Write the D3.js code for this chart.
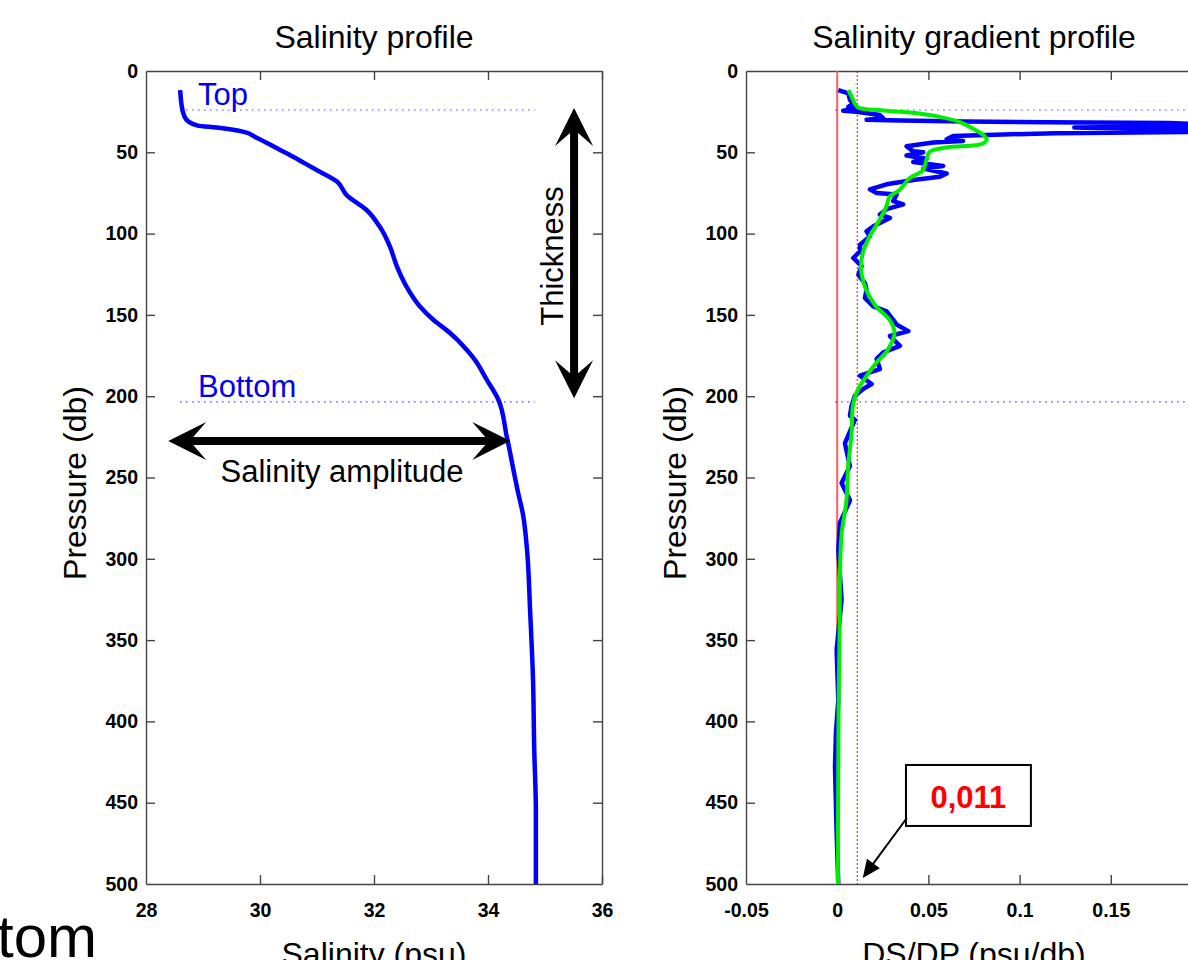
<!DOCTYPE html>
<html>
<head>
<meta charset="utf-8">
<script src="https://cdn.jsdelivr.net/npm/d3@7"></script>
<style>
  body { margin: 0; background: #fff; }
  svg { display: block; font-family: "Liberation Sans", Arial, sans-serif; }
  .axis path, .axis line { stroke: #444; stroke-width: 1.4; }
  .axis text { font-size: 19.5px; font-weight: bold; fill: #000; font-family: "Liberation Sans", Arial, sans-serif; }
  .big { font-size: 31px; fill: #000; }
</style>
</head>
<body>
<svg id="chart" width="1188" height="960"></svg>
<script>
// salinity profile (left)
const salPressure = [11.7, 24, 30, 33.6, 34.8, 37.3, 41, 47.4, 52.7, 59.7, 68, 76.3, 85.5, 95.7, 108, 120, 132.6, 145, 153, 161, 171.6, 177.7, 190, 202, 225, 259.6, 272, 292.5, 333, 374.5, 415.5, 456, 500];
const salinity = [28.6, 28.64, 28.71, 28.91, 29.24, 29.7, 29.94, 30.29, 30.58, 30.93, 31.35, 31.52, 31.87, 32.1, 32.28, 32.4, 32.57, 32.81, 33.04, 33.33, 33.63, 33.77, 33.98, 34.18, 34.33, 34.53, 34.61, 34.68, 34.74, 34.79, 34.81, 34.84, 34.84];

// salinity gradient, raw (blue)
const gradPressure = [11.7, 13.7, 17.8, 19.9, 22, 23, 24.5, 25, 27.1, 29.1,
  30, 30.5, 31, 31.5, 32, 33, 34, 34.8, 35.5, 36.5,
  37.5, 38.3, 39, 40, 42, 43, 44, 46.3, 49.4, 50,
  52, 54, 56, 58.4, 60, 63, 65, 67, 69.7, 72.8,
  75, 76, 80, 82, 85, 88.3, 90.4, 95.5, 98.6, 101.7,
  106.8, 110.9, 115, 120, 125.3, 130.4, 134.5, 139.6, 144.8, 147.8,
  153, 156, 160, 163, 169, 173, 177, 183.3, 187.4, 192.5,
  195.5, 199.7, 205.8, 212, 214.6, 229, 243, 253.4, 264, 278,
  294.6, 325, 356, 387, 407, 428, 469, 500];
const gradient = [0.0006, 0.0061, 0.007, 0.0088, 0.0061, 0.0106, 0.0033, 0.0106, 0.0234, 0.0253,
  0.0161, 0.035, 0.07, 0.115, 0.182, 0.21, 0.2, 0.13, 0.16, 0.22,
  0.2, 0.12, 0.091, 0.0636, 0.06, 0.069, 0.0527, 0.038, 0.0417, 0.0472,
  0.038, 0.049, 0.0417, 0.0581, 0.0472, 0.06, 0.0563, 0.0417, 0.0271, 0.0179,
  0.0216, 0.0326, 0.0307, 0.0362, 0.0271, 0.0234, 0.0289, 0.0198, 0.0161, 0.0179,
  0.0125, 0.0125, 0.0088, 0.0134, 0.0116, 0.0152, 0.0161, 0.0152, 0.0198, 0.0271,
  0.0307, 0.0326, 0.039, 0.0289, 0.0344, 0.0253, 0.0216, 0.0234, 0.0125, 0.0189,
  0.0143, 0.0097, 0.0079, 0.007, 0.0097, 0.0042, 0.007, 0.0024, 0.007, 0.0015,
  0.0006, 0.0024, -0.0003, 0.0006, -0.0007, -0.0012, -0.0003, 0.0006];

// salinity gradient, smoothed (green)
const smoothPressure = [11.7, 15.8, 22, 24.1, 25.7, 28.2, 31.3, 35.4, 41.5, 44.6,
  47, 49.7, 54.8, 61, 66, 73.2, 77.3, 83.4, 91.6, 101.9,
  112, 122.3, 134.6, 144.8, 153, 161, 171.5, 179.6, 187.8, 196,
  206, 223, 243, 264, 284, 305, 346, 387, 428, 469, 500];
const smoothGradient = [0.0061, 0.008, 0.011, 0.0237, 0.0416, 0.0562, 0.067, 0.0743, 0.0819, 0.08,
  0.0598, 0.0507, 0.0489, 0.047, 0.0396, 0.0342, 0.0287, 0.0269, 0.0232, 0.0177,
  0.014, 0.0131, 0.0159, 0.0213, 0.0287, 0.0314, 0.0277, 0.0213, 0.0159, 0.0113,
  0.0086, 0.0079, 0.006, 0.0051, 0.0025, 0.0016, 0.0013, 0.0008, 0.0006, 0.0004, 0.0004];

const pressureTicks = [0, 50, 100, 150, 200, 250, 300, 350, 400, 450, 500];
const salTicks = [28, 30, 32, 34, 36];
const gradTicks = [-0.05, 0, 0.05, 0.1, 0.15, 0.2];

const topPressure = 24;
const bottomPressure = 203.5;
const threshold = 0.011;

const svg = d3.select('#chart');

const y = d3.scaleLinear().domain([0, 500]).range([71, 884]);
const xSal = d3.scaleLinear().domain([28, 36]).range([146, 602]);
const xGrad = d3.scaleLinear().domain([-0.05, 0.2]).range([746, 1202]);

function drawAxes(x, ticks, title, xlabel) {
  const [x0, x1] = x.range();
  const [y0, y1] = y.range();
  svg.append('g').attr('class', 'axis').attr('transform', `translate(0,${y0})`)
    .call(d3.axisTop(x).tickValues(ticks).tickSizeInner(-9).tickSizeOuter(0).tickFormat(''));
  svg.append('g').attr('class', 'axis').attr('transform', `translate(${x1},0)`)
    .call(d3.axisRight(y).tickValues(pressureTicks).tickSizeInner(-9).tickSizeOuter(0).tickFormat(''));
  // labels that would fall past the page edge are left blank
  svg.append('g').attr('class', 'axis').attr('transform', `translate(0,${y1})`)
    .call(d3.axisBottom(x).tickValues(ticks).tickSizeInner(-9).tickSizeOuter(0).tickPadding(19)
      .tickFormat(d => (x(d) > 1180 ? '' : d)));
  svg.append('g').attr('class', 'axis').attr('transform', `translate(${x0},0)`)
    .call(d3.axisLeft(y).tickValues(pressureTicks).tickSizeInner(-9).tickSizeOuter(0).tickPadding(8));
  // no tick marks on the box corners
  svg.selectAll('.axis .tick line').filter(d => d === 0 || d === 500 || d === x.domain()[0]).remove();

  const cx = (x0 + x1) / 2;
  svg.append('text').attr('class', 'big').attr('x', cx).attr('y', 48)
    .attr('text-anchor', 'middle').style('font-size', '32px').text(title);
  svg.append('text').attr('class', 'big')
    .attr('transform', `translate(${x0 - 60},483) rotate(-90)`)
    .attr('text-anchor', 'middle').style('font-size', '32px')
    .text('Pressure (db)');
  svg.append('text').attr('class', 'big').attr('x', cx).attr('y', 965)
    .attr('text-anchor', 'middle').style('font-size', '32px').text(xlabel);
}

// double headed arrow with barbed heads
function doubleArrow(ax, ay, bx, by) {
  const L = 38, N = 25, W = 19, h = 4;
  const len = Math.hypot(bx - ax, by - ay);
  const ux = (bx - ax) / len, uy = (by - ay) / len;
  const nx = -uy, ny = ux;
  const p = (px, py, a, b) => [px + ux * a + nx * b, py + uy * a + ny * b];
  const pts = [
    [ax, ay], p(ax, ay, L, W), p(ax, ay, N, h), p(bx, by, -N, h), p(bx, by, -L, W),
    [bx, by], p(bx, by, -L, -W), p(bx, by, -N, -h), p(ax, ay, N, -h), p(ax, ay, L, -W)
  ];
  svg.append('path').attr('d', d3.line()(pts) + 'Z').attr('fill', '#000');
}

// ---- left panel
drawAxes(xSal, salTicks, 'Salinity profile', 'Salinity (psu)');

[topPressure, bottomPressure].forEach(p => {
  svg.append('line')
    .attr('x1', xSal(28.6)).attr('x2', xSal(34.82))
    .attr('y1', y(p)).attr('y2', y(p))
    .attr('stroke', '#1010ff').attr('stroke-width', 1.2).attr('stroke-dasharray', '1.2,4.8');
});

svg.append('path')
  .attr('d', d3.line().curve(d3.curveMonotoneY)
    .x(d => xSal(salinity[d])).y(d => y(salPressure[d]))(d3.range(salinity.length)))
  .attr('fill', 'none').attr('stroke', '#0000ff').attr('stroke-width', 4.5)
  .attr('stroke-linejoin', 'round');

svg.append('text').attr('class', 'big').attr('x', 198).attr('y', 105).style('fill', '#0000ee').text('Top');
svg.append('text').attr('class', 'big').attr('x', 198).attr('y', 397).style('fill', '#0000ee').text('Bottom');

doubleArrow(xSal(28.39), y(227.5), xSal(34.39), y(227.5));
svg.append('text').attr('class', 'big').attr('x', 342).attr('y', 482)
  .attr('text-anchor', 'middle').text('Salinity amplitude');

doubleArrow(xSal(35.51), y(22.8), xSal(35.51), y(201.3));
svg.append('text').attr('class', 'big')
  .attr('transform', 'translate(563,256) rotate(-90)')
  .attr('text-anchor', 'middle').text('Thickness');

// ---- right panel
svg.append('clipPath').attr('id', 'clipR').append('rect')
  .attr('x', 746).attr('y', 71).attr('width', 456).attr('height', 813);

drawAxes(xGrad, gradTicks, 'Salinity gradient profile', 'DS/DP (psu/db)');

const plotR = svg.append('g').attr('clip-path', 'url(#clipR)');

plotR.append('line')
  .attr('x1', xGrad(0)).attr('x2', xGrad(0)).attr('y1', y(0)).attr('y2', y(500))
  .attr('stroke', '#ff6060').attr('stroke-width', 2);
plotR.append('line')
  .attr('x1', xGrad(threshold)).attr('x2', xGrad(threshold)).attr('y1', y(0)).attr('y2', y(500))
  .attr('stroke', '#ff0000').attr('stroke-width', 1).attr('stroke-dasharray', '2,2');

[topPressure, bottomPressure].forEach(p => {
  plotR.append('line')
    .attr('x1', xGrad(-0.001)).attr('x2', xGrad(0.2))
    .attr('y1', y(p)).attr('y2', y(p))
    .attr('stroke', '#1010ff').attr('stroke-width', 1.2).attr('stroke-dasharray', '1.2,4.8');
});

plotR.append('path')
  .attr('d', d3.line().x(d => xGrad(gradient[d])).y(d => y(gradPressure[d]))(d3.range(gradient.length)))
  .attr('fill', 'none').attr('stroke', '#0000ff').attr('stroke-width', 4.5)
  .attr('stroke-linejoin', 'round');

plotR.append('path')
  .attr('d', d3.line().curve(d3.curveCatmullRom.alpha(0.5))
    .x(d => xGrad(smoothGradient[d])).y(d => y(smoothPressure[d]))(d3.range(smoothGradient.length)))
  .attr('fill', 'none').attr('stroke', '#00ee00').attr('stroke-width', 4)
  .attr('stroke-linejoin', 'round');

// threshold callout
const bx0 = xGrad(0.0377), bx1 = xGrad(0.1062), by0 = y(426.8), by1 = y(464.3);
svg.append('rect').attr('x', bx0).attr('y', by0).attr('width', bx1 - bx0).attr('height', by1 - by0)
  .attr('fill', '#fff').attr('stroke', '#000').attr('stroke-width', 2);
svg.append('text').attr('x', (bx0 + bx1) / 2).attr('y', 808).attr('text-anchor', 'middle')
  .style('font-size', '31px').style('font-weight', 'bold').style('fill', '#ff0000').text('0,011');

const ax0 = xGrad(0.0382), ay0 = y(459.4), ax1 = xGrad(0.014), ay1 = y(496.3);
const alen = Math.hypot(ax1 - ax0, ay1 - ay0);
const aux = (ax1 - ax0) / alen, auy = (ay1 - ay0) / alen;
svg.append('line').attr('x1', ax0).attr('y1', ay0)
  .attr('x2', ax1 - aux * 14).attr('y2', ay1 - auy * 14)
  .attr('stroke', '#000').attr('stroke-width', 2);
svg.append('path').attr('fill', '#000').attr('d', d3.line()([
  [ax1, ay1],
  [ax1 - aux * 18 - auy * 8, ay1 - auy * 18 + aux * 8],
  [ax1 - aux * 18 + auy * 8, ay1 - auy * 18 - aux * 8]
]) + 'Z');

// leftover slide text at the bottom left
svg.append('text').attr('x', 97).attr('y', 957).attr('text-anchor', 'end')
  .style('font-size', '60px').style('fill', '#000').text('Bottom');
</script>
</body>
</html>
